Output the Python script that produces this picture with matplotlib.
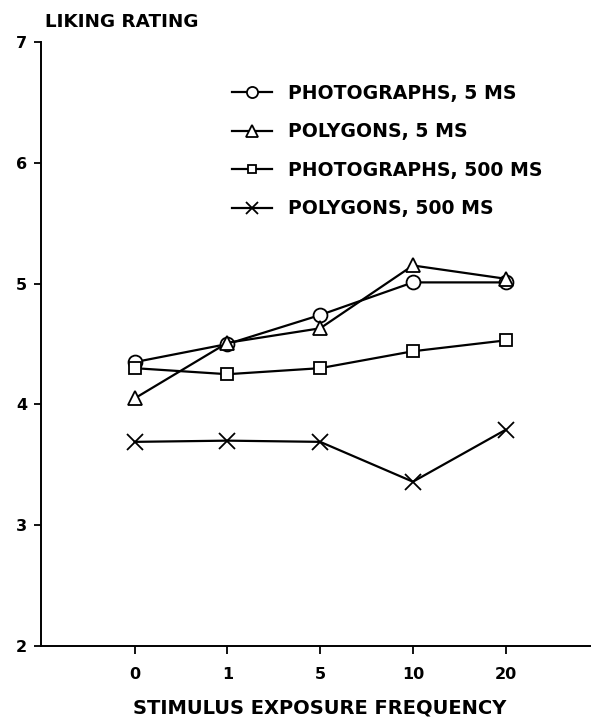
import matplotlib
matplotlib.use('Agg')
import matplotlib.pyplot as plt

plt.rcParams['font.family'] = 'DejaVu Sans'
plt.rcParams['font.weight'] = 'bold'

frequencies = ['0', '1', '5', '10', '20']
photos_5ms = [4.35, 4.50, 4.74, 5.01, 5.01]
polygons_5ms = [4.05, 4.51, 4.63, 5.15, 5.04]
photos_500ms = [4.30, 4.25, 4.30, 4.44, 4.53]
polygons_500ms = [3.69, 3.70, 3.69, 3.36, 3.79]

y_ticks = [2, 3, 4, 5, 6, 7]

fig = plt.figure(figsize=(5.91, 7.19), dpi=100)
ax = fig.add_axes([0.0694, 0.1015, 0.9306, 0.8401])

pos = list(range(len(frequencies)))
style = dict(color='black', linewidth=1.6, markerfacecolor='white',
             markeredgecolor='black', markeredgewidth=1.3)

ax.plot(pos, photos_5ms, marker='o', markersize=10, label='PHOTOGRAPHS, 5 MS', **style)
ax.plot(pos, polygons_5ms, marker='^', markersize=10, label='POLYGONS, 5 MS', **style)
ax.plot(pos, photos_500ms, marker='s', markersize=8, label='PHOTOGRAPHS, 500 MS', **style)
ax.plot(pos, polygons_500ms, marker='x', markersize=11, label='POLYGONS, 500 MS', **style)

ax.set_xlim(-1.01, 4.92)
ax.set_ylim(2, 7)
ax.set_xticks(pos)
ax.set_xticklabels(frequencies)
ax.set_yticks(y_ticks)

for s in ['top', 'right']:
    ax.spines[s].set_visible(False)
for s in ['left', 'bottom']:
    ax.spines[s].set_linewidth(1.4)

ax.tick_params(axis='x', direction='out', length=6, width=1.3, pad=9, labelsize=11.5)
ax.tick_params(axis='y', direction='out', length=5, width=1.3, pad=5, labelsize=11.5)

fig.text(45 / 591, 1 - 22 / 719, 'LIKING RATING', fontsize=13.2, fontweight='bold',
         ha='left', va='center')
ax.set_xlabel('STIMULUS EXPOSURE FREQUENCY', fontsize=14, fontweight='bold')
ax.xaxis.set_label_coords(2, -(708 - 646) / 604, transform=ax.get_xaxis_transform())
ax.xaxis.label.set_va('center')

leg = ax.legend(loc='upper left', bbox_to_anchor=(232 / 591, 1 - 84 / 719),
                bbox_transform=fig.transFigure, frameon=False, fontsize=13.6,
                handlelength=2.1, handletextpad=0.85, labelspacing=1.03,
                markerscale=0.8, borderpad=0, borderaxespad=0)

fig.savefig('out.png', dpi=100)
